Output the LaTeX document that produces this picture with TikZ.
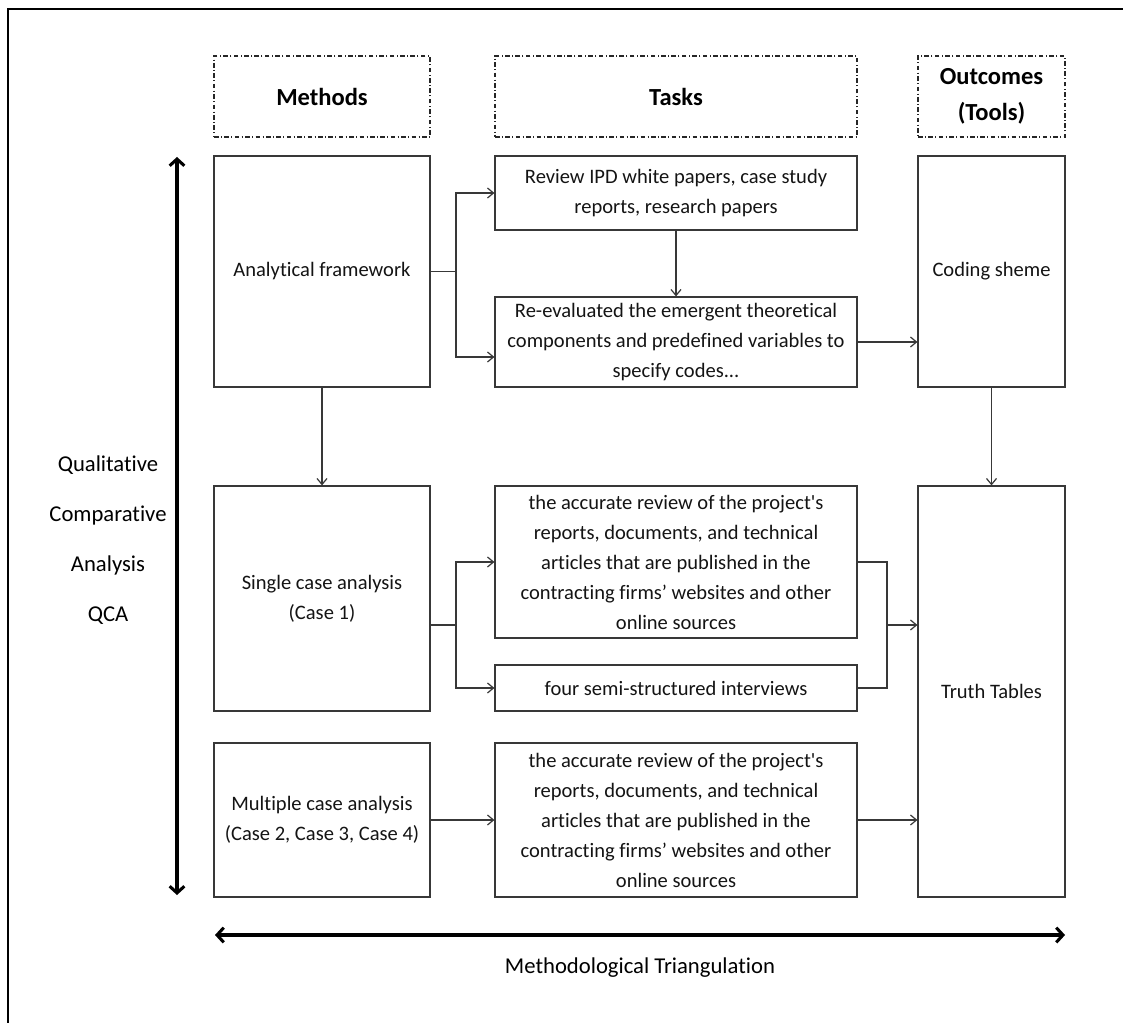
\documentclass[tikz,border=0pt]{standalone}
\usepackage{fontspec}
\setmainfont{Carlito}[Ligatures={TeXOff,NoCommon}]
\usetikzlibrary{arrows.meta,calc}
\begin{document}
\begin{tikzpicture}[x=0.75pt,y=-0.75pt,
  % a rectangle given by its corners (x1,y1) and (x2,y2)
  cell/.style n args={4}{minimum width={(#3-#1)*0.75pt},
    minimum height={(#4-#2)*0.75pt},
    at={(0.5*#1+0.5*#3, 0.5*#2+0.5*#4)}},
  box/.style={draw=black!78, line width=0.9pt, inner sep=0pt, align=center,
    text=black!92, font=\fontsize{15.4}{22.5}\selectfont},
  headbox/.style={draw=black!85, line width=1pt,
    dash pattern=on 3.4pt off 1.8pt on 0.8pt off 1.8pt,
    inner sep=0pt, align=center, font=\fontsize{18.4}{27}\selectfont\bfseries},
  link/.style={draw=black!78, line width=0.9pt},
  flow/.style={link, -{Straight Barb[length=4.5pt,width=7.5pt]}},
  span/.style={line width=2.3pt,
    {Straight Barb[length=5pt,width=11pt]}-{Straight Barb[length=5pt,width=11pt]}},
  side/.style={align=center, font=\fontsize{17}{37.5}\selectfont}
]
\useasboundingbox (0,0) rectangle (1123,1023);
\fill[white] (0,0) rectangle (1123,1023);

% frame
\draw[line width=1.6pt, line join=miter] (8,1023) -- (8,9) -- (1123,9);

% column headers
\node[headbox, cell={214}{56}{430}{137}] (hm) {Methods};
\node[headbox, cell={495}{56}{857}{137}] (ht) {Tasks};
\node[headbox, cell={918}{56}{1065}{137}] (ho) {Outcomes\\(Tools)};

% methods
\node[box, cell={214}{156}{430}{387}] (af) {Analytical framework};
\node[box, cell={214}{486}{430}{711}] (sc) {Single case analysis\\(Case 1)};
\node[box, cell={214}{743}{430}{897}] (mc) {Multiple case analysis\\(Case 2, Case 3, Case 4)};

% tasks
\node[box, cell={495}{156}{857}{230}] (rv) {Review IPD white papers, case study\\reports, research papers};
\node[box, cell={495}{297}{857}{387}] (re) {Re-evaluated the emergent theoretical\\components and predefined variables to\\specify codes...};
\node[box, cell={495}{486}{857}{638}] (ar1) {the accurate review of the project's\\reports, documents, and technical\\articles that are published in the\\contracting firms’ websites and other\\online sources};
\node[box, cell={495}{665}{857}{711}] (fs) {four semi-structured interviews};
\node[box, cell={495}{743}{857}{897}] (ar2) {the accurate review of the project's\\reports, documents, and technical\\articles that are published in the\\contracting firms’ websites and other\\online sources};

% outcomes
\node[box, cell={918}{156}{1065}{387}] (cs) {Coding sheme};
\node[box, cell={918}{486}{1065}{897}] (tt) {Truth Tables};

% side labels
\node[side] (qca) at (108,540) {Qualitative\\Comparative\\Analysis\\QCA};
\node[side] (mt) at (640,968) {Methodological Triangulation};

% analytical framework branches
\coordinate (b1) at (456,271.5);
\draw[link] (af.east) -- (b1);
\draw[flow] (b1) |- (rv.west);
\draw[flow] (b1) |- ($(re.west)+(0,15)$);
\draw[flow] (rv) -- (re);
\draw[flow] (re.east) -- (cs.west |- re.east);

% vertical flow between rows
\draw[flow] (af) -- (sc);
\draw[flow] (cs) -- (tt);

% single case branches and merge
\coordinate (b2) at (456,625);
\draw[link] (sc.east |- b2) -- (b2);
\draw[flow] (b2) |- (ar1.west);
\draw[flow] (b2) |- (fs.west);
\coordinate (m) at (887,625);
\draw[link] (ar1.east) -- (ar1.east -| m) -- (fs.east -| m) -- (fs.east);
\draw[flow] (m) -- (tt.west |- m);

% multiple case
\draw[flow] (mc.east) -- (ar2.west |- mc.east);
\draw[flow] (ar2.east) -- (tt.west |- ar2.east);

% spanning arrows
\coordinate (vt) at (177,157);
\coordinate (vb) at (177,895);
\draw[span] (vb) -- (vt);
\coordinate (hl) at (215,935);
\coordinate (hr) at (1065,935);
\draw[span] (hl) -- (hr);
\end{tikzpicture}
\end{document}
